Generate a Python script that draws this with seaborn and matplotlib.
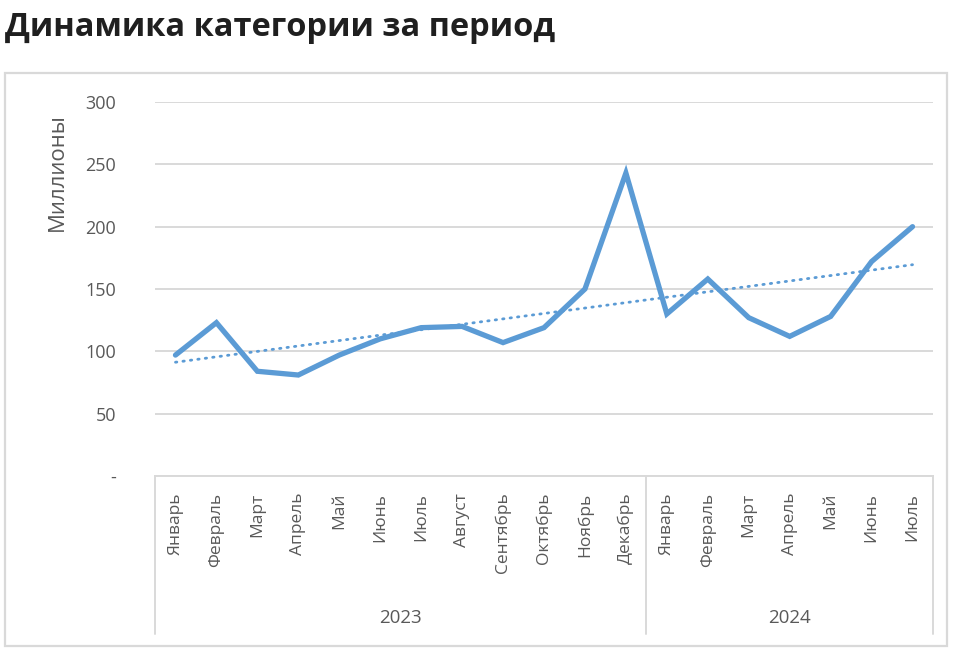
import matplotlib
matplotlib.use("Agg")
import matplotlib.pyplot as plt
import matplotlib.transforms as mtransforms
from matplotlib.patches import Rectangle
from matplotlib.lines import Line2D
import seaborn as sns
import pandas as pd
import numpy as np

# ---- data ----
months = ["Январь", "Февраль", "Март", "Апрель", "Май", "Июнь", "Июль", "Август",
          "Сентябрь", "Октябрь", "Ноябрь", "Декабрь",
          "Январь", "Февраль", "Март", "Апрель", "Май", "Июнь", "Июль"]
years = ["2023", "2024"]
year_counts = [12, 7]
values = [97, 123, 84, 81, 97, 110, 119, 120, 107, 119, 150, 243,
          130, 158, 127, 112, 128, 172, 200]
y_ticks = [0, 50, 100, 150, 200, 250, 300]
y_tick_labels = ["-", "50", "100", "150", "200", "250", "300"]

title = "Динамика категории за период"
y_label = "Миллионы"

df = pd.DataFrame({"idx": np.arange(len(values)), "value": values})

sns.set_theme(style="white")
plt.rcParams["font.family"] = ["Open Sans", "DejaVu Sans"]

W, H = 969, 651
fig = plt.figure(figsize=(W / 100, H / 100), dpi=100)

left, right, top, bottom = 155, 933, 102, 476
ax = fig.add_axes([left / W, 1 - bottom / H, (right - left) / W, (bottom - top) / H])

blue = "#5B9BD5"
grid_c = "#D9D9D9"
txt_c = "#595959"

sns.lineplot(data=df, x="idx", y="value", ax=ax, color=blue, linewidth=3.8,
             solid_joinstyle="miter", zorder=3)
sns.regplot(data=df, x="idx", y="value", ax=ax, scatter=False, ci=None,
            color=blue, line_kws=dict(linestyle=(0, (0.5, 2.2)), linewidth=2.0,
                                       dash_capstyle="round", zorder=4))

ax.set_xlim(-0.5, len(values) - 0.5)
ax.set_ylim(0, 300)
ax.set_yticks(y_ticks)
ax.set_yticklabels(y_tick_labels)
ax.yaxis.grid(True, color=grid_c, linewidth=1.4)
ax.set_axisbelow(True)
for s in ["left", "right", "top"]:
    ax.spines[s].set_visible(False)
ax.spines["bottom"].set_color(grid_c)
ax.spines["bottom"].set_linewidth(1.4)
ax.tick_params(axis="y", length=0, pad=28, labelsize=13, labelcolor=txt_c)

ax.set_xticks(range(len(months)))
ax.set_xticklabels(months, rotation=90, fontsize=12.5, color=txt_c)
ax.tick_params(axis="x", length=0, pad=12)
ax.set_xlabel("")
ax.set_ylabel("")

# y-axis title, placed near the top like the reference
fig.text(57 / W, 1 - 172 / H, y_label, rotation=90, ha="center", va="center",
         fontsize=16, color=txt_c)

# multi-level category axis
trans = mtransforms.blended_transform_factory(ax.transData, ax.transAxes)
h = bottom - top
y_low = -(634 - bottom) / h
bounds = [-0.5]
for c in year_counts:
    bounds.append(bounds[-1] + c)
for b in bounds:
    ax.add_line(Line2D([b, b], [0, y_low], transform=trans, color=grid_c,
                       linewidth=1.4, clip_on=False))
for i, yr in enumerate(years):
    xc = (bounds[i] + bounds[i + 1]) / 2
    ax.text(xc, -(618 - bottom) / h, yr, transform=trans, ha="center", va="center",
            fontsize=13.5, color=txt_c)

# outer chart border
fig.patches.append(Rectangle((5 / W, 1 - 646 / H), (947 - 5) / W, (646 - 73) / H,
                             transform=fig.transFigure, fill=False,
                             edgecolor=grid_c, linewidth=1.6))

fig.text(5 / W, 1 - 27 / H, title, ha="left", va="center", fontsize=23.5,
         fontweight="bold", color="#1F1F1F")

fig.savefig("out.png", dpi=100, facecolor="white")
